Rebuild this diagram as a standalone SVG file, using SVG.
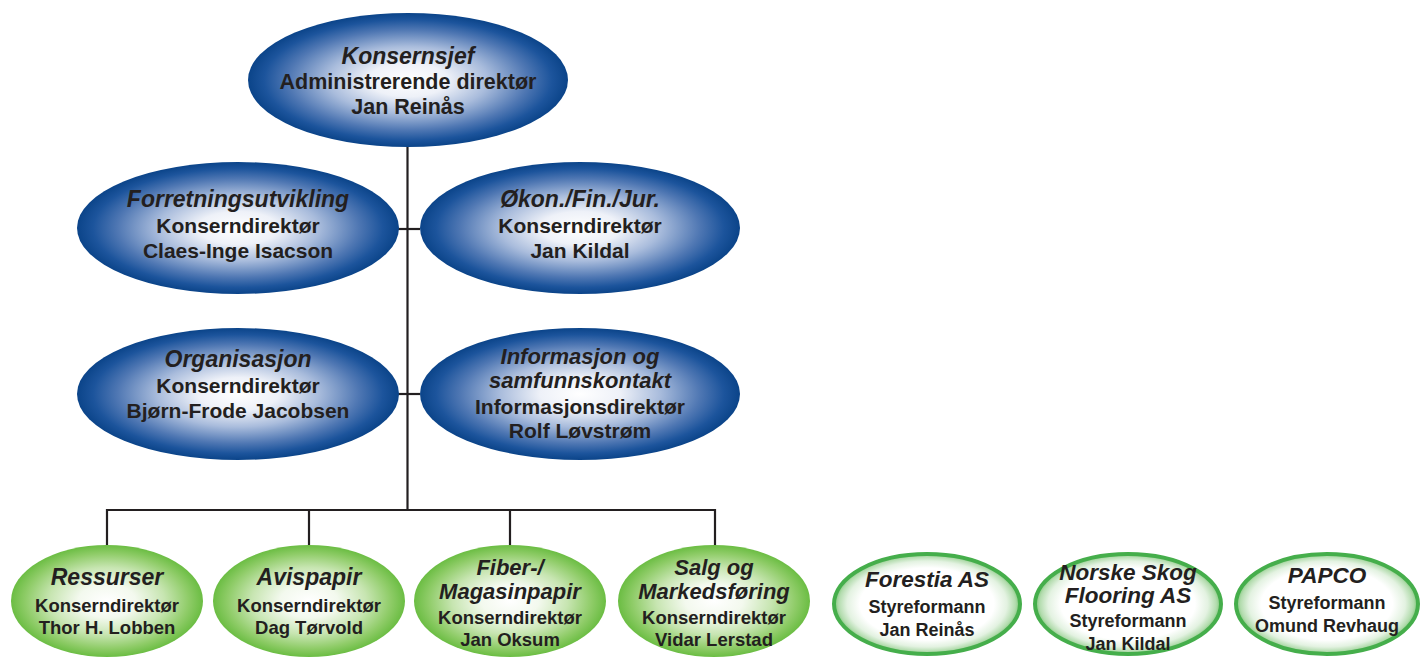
<svg xmlns="http://www.w3.org/2000/svg" width="1420" height="657" viewBox="0 0 1420 657">
<defs>
<radialGradient id="gBlue" cx="0.5" cy="0.5" r="0.5">
<stop offset="0" stop-color="#ffffff"/>
<stop offset="0.25" stop-color="#eef1f8"/>
<stop offset="0.5" stop-color="#a9bcdc"/>
<stop offset="0.75" stop-color="#4f77b3"/>
<stop offset="0.9" stop-color="#1c549c"/>
<stop offset="1" stop-color="#0b4489"/>
</radialGradient>
<radialGradient id="gGreen" cx="0.5" cy="0.5" r="0.5">
<stop offset="0" stop-color="#ffffff"/>
<stop offset="0.3" stop-color="#f3f9ee"/>
<stop offset="0.6" stop-color="#c7e5b1"/>
<stop offset="0.85" stop-color="#8fcc68"/>
<stop offset="1" stop-color="#6bbd43"/>
</radialGradient>
<radialGradient id="gRing" cx="0.5" cy="0.5" r="0.5">
<stop offset="0" stop-color="#ffffff"/>
<stop offset="0.72" stop-color="#ffffff"/>
<stop offset="0.86" stop-color="#e3f2e1"/>
<stop offset="0.95" stop-color="#b3dcae"/>
<stop offset="1" stop-color="#7cc677"/>
</radialGradient>
</defs>
<style>
text{font-family:"Liberation Sans",Arial,sans-serif;font-weight:bold;fill:#231f20;text-anchor:middle;}
.t{font-style:italic;}
.blue{fill:url(#gBlue);}
.green{fill:url(#gGreen);}
.ring{fill:url(#gRing);stroke:#45ae4b;stroke-width:4;}
.ln{stroke:#231f20;stroke-width:2.2;fill:none;}
.bt{font-size:23px;}
.bb{font-size:21px;}
.gt{font-size:23px;}
.t2{font-size:22px;}
.gb{font-size:18.5px;}
.rt{font-size:22.5px;}
.rb{font-size:18px;}
</style>
<rect width="1420" height="657" fill="#ffffff"/>
<g id="connectors">
<path class="ln" d="M407.5 147V510"/>
<path class="ln" d="M398 229H420"/>
<path class="ln" d="M398 394H420"/>
<path class="ln" d="M107 548V510H715V548"/>
<path class="ln" d="M309 510V548"/>
<path class="ln" d="M510 510V548"/>
</g>
<g id="konsernsjef">
<ellipse class="blue" cx="408" cy="80" rx="160" ry="67"/>
<text class="t bt" x="408" y="64">Konsernsjef</text>
<text class="bb" x="408" y="89" style="font-size:21.5px">Administrerende direktør</text>
<text class="bb" x="408" y="114" style="font-size:21.5px">Jan Reinås</text>
</g>
<g id="forretning">
<ellipse class="blue" cx="238" cy="228" rx="161" ry="66"/>
<text class="t bt" x="238" y="207">Forretningsutvikling</text>
<text class="bb" x="238" y="233">Konserndirektør</text>
<text class="bb" x="238" y="258">Claes-Inge Isacson</text>
</g>
<g id="okon">
<ellipse class="blue" cx="580" cy="228" rx="160" ry="66"/>
<text class="t bt" x="580" y="207">Økon./Fin./Jur.</text>
<text class="bb" x="580" y="233">Konserndirektør</text>
<text class="bb" x="580" y="258">Jan Kildal</text>
</g>
<g id="organisasjon">
<ellipse class="blue" cx="238" cy="394" rx="161" ry="66"/>
<text class="t bt" x="238" y="367">Organisasjon</text>
<text class="bb" x="238" y="393">Konserndirektør</text>
<text class="bb" x="238" y="418">Bjørn-Frode Jacobsen</text>
</g>
<g id="informasjon">
<ellipse class="blue" cx="580" cy="394" rx="160" ry="66"/>
<text class="t t2" x="580" y="364">Informasjon og</text>
<text class="t t2" x="580" y="388">samfunnskontakt</text>
<text class="bb" x="580" y="414">Informasjonsdirektør</text>
<text class="bb" x="580" y="438">Rolf Løvstrøm</text>
</g>
<g id="ressurser">
<ellipse class="green" cx="107" cy="601" rx="96" ry="56"/>
<text class="t gt" x="107" y="585">Ressurser</text>
<text class="gb" x="107" y="612">Konserndirektør</text>
<text class="gb" x="107" y="634">Thor H. Lobben</text>
</g>
<g id="avispapir">
<ellipse class="green" cx="309" cy="601" rx="96" ry="56"/>
<text class="t gt" x="309" y="585">Avispapir</text>
<text class="gb" x="309" y="612">Konserndirektør</text>
<text class="gb" x="309" y="634">Dag Tørvold</text>
</g>
<g id="fiber">
<ellipse class="green" cx="510" cy="601" rx="96" ry="56"/>
<text class="t t2" x="510" y="575">Fiber-/</text>
<text class="t t2" x="510" y="599">Magasinpapir</text>
<text class="gb" x="510" y="624">Konserndirektør</text>
<text class="gb" x="510" y="646">Jan Oksum</text>
</g>
<g id="salg">
<ellipse class="green" cx="714" cy="601" rx="96" ry="56"/>
<text class="t t2" x="714" y="575">Salg og</text>
<text class="t t2" x="714" y="599">Markedsføring</text>
<text class="gb" x="714" y="624">Konserndirektør</text>
<text class="gb" x="714" y="646">Vidar Lerstad</text>
</g>
<g id="forestia">
<ellipse class="ring" cx="927" cy="604" rx="93" ry="50"/>
<text class="t rt" x="927" y="587">Forestia AS</text>
<text class="rb" x="927" y="613">Styreformann</text>
<text class="rb" x="927" y="636">Jan Reinås</text>
</g>
<g id="flooring">
<ellipse class="ring" cx="1128" cy="604" rx="93" ry="50"/>
<text class="t rt" x="1128" y="580">Norske Skog</text>
<text class="t rt" x="1128" y="603">Flooring AS</text>
<text class="rb" x="1128" y="627">Styreformann</text>
<text class="rb" x="1128" y="650">Jan Kildal</text>
</g>
<g id="papco">
<ellipse class="ring" cx="1327" cy="604" rx="91" ry="50"/>
<text class="t rt" x="1327" y="583">PAPCO</text>
<text class="rb" x="1327" y="609">Styreformann</text>
<text class="rb" x="1327" y="632">Omund Revhaug</text>
</g>
</svg>
